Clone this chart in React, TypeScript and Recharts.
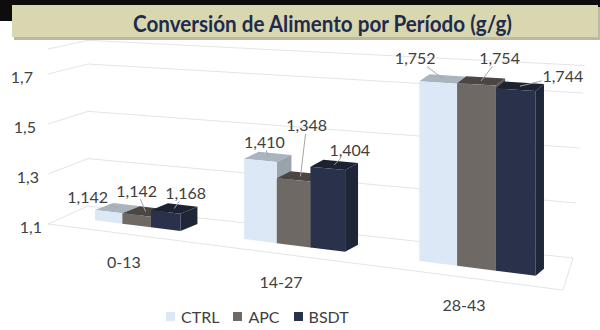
import React from 'react';
import { BarChart, Bar, XAxis, YAxis, CartesianGrid, LabelList, Legend } from 'recharts';

const periods = ['0-13', '14-27', '28-43'];
const seriesKeys = ['CTRL', 'APC', 'BSDT'];
const ctrl = [1.142, 1.41, 1.752];
const apc = [1.142, 1.348, 1.754];
const bsdt = [1.168, 1.404, 1.744];
const yTicks = [1.1, 1.3, 1.5, 1.7];

const data = periods.map((p, i) => ({ period: p, CTRL: ctrl[i], APC: apc[i], BSDT: bsdt[i] }));

const W = 600;
const H = 330;
const Y_AXIS_W = 40;
const X_AXIS_H = 20;
const M = { top: 40, right: 40, bottom: 40 - X_AXIS_H, left: 60 - Y_AXIS_W };
const PL = 60;
const PW = W - 60 - 40;
const PT = 40;
const PH = H - 40 - 40;
const Y_MIN = 1.1;
const Y_MAX = 1.8;
const BAND = PW / periods.length;
const TEXT = '#404040';
const FONT = 'Lato, "Open Sans", sans-serif';

// recharts lays the bars out flat; these bend that layout into the tilted 3d view
const toT = (x: number) => (x - PL) / BAND - 0.5;
const sx = (t: number) => 137 + 144 * t + 13 * t * t;
const base = (X: number) => 222 + 0.126 * (X - 109);
const unit = (X: number) => 248 + 0.096 * (X - 130);
const dv = (yFlat: number) => ((PT + PH - yFlat) / PH) * (Y_MAX - Y_MIN);
const sy = (X: number, d: number) => base(X) - unit(X) * d;
const depthX = (X: number) => 17 - (X - 165) * 0.025;
const DEPTH_Y = -7;
const WALL_SPAN = yTicks[yTicks.length - 1] - Y_MIN;

const wall = (f: number) => ({
  front: [48, 224 - 150 * f],
  backL: [88, 206 - 142 * f],
  backR: [573 + 10 * f, 258 - 165 * f],
});

const pts = (p: number[][]) => p.map((q) => `${q[0]},${q[1]}`).join(' ');
const fmt = (v: number, n: number) => v.toFixed(n).replace('.', ',');

const colors: Record<string, { front: string; top: string; side: string }> = {
  CTRL: { front: '#dde8f6', top: '#a9b4bf', side: '#98a3ae' },
  APC: { front: '#6f6966', top: '#4b4643', side: '#57524f' },
  BSDT: { front: '#29324a', top: '#1c2232', side: '#1f2638' },
};

// where each value label was dragged to, relative to its bar top
const labelOffsets: Record<string, number[][]> = {
  CTRL: [[-21, -15], [4, -19], [-23, -25]],
  APC: [[0, -25], [13, -55], [23, -27]],
  BSDT: [[20, -20], [22, -19], [47, -14]],
};

const boxShape = (key: string) => (props: any) => {
  const { x, y, width, height } = props;
  if (width == null || height == null) return <g />;
  const c = colors[key];
  const X1 = sx(toT(x));
  const X2 = sx(toT(x + width));
  const dTop = dv(y);
  const dBot = dv(y + height);
  const a = [X1, sy(X1, dTop)];
  const b = [X2, sy(X2, dTop)];
  const cc = [X2, sy(X2, dBot)];
  const d = [X1, sy(X1, dBot)];
  const ox = depthX((X1 + X2) / 2);
  const sh = (p: number[]) => [p[0] + ox, p[1] + DEPTH_Y];
  return (
    <g>
      <polygon points={pts([a, b, sh(b), sh(a)])} fill={c.top} />
      <polygon points={pts([b, sh(b), sh(cc), cc])} fill={c.side} />
      <polygon points={pts([a, b, cc, d])} fill={c.front} />
    </g>
  );
};

const valueLabel = (key: string) => (props: any) => {
  const vb = props.viewBox || props;
  const { x, y, width } = vb;
  const { index, value } = props;
  if (x == null) return null;
  const X1 = sx(toT(x));
  const X2 = sx(toT(x + width));
  const Xc = (X1 + X2) / 2;
  const Yc = sy(Xc, dv(y));
  const off = labelOffsets[key][index];
  const cx = Xc + off[0];
  const cy = Yc + off[1];
  const tx = Xc + depthX(Xc) / 2;
  const ty = Yc + DEPTH_Y / 2;
  const ddx = tx - cx;
  const ddy = ty - cy;
  const s = Math.min(ddx !== 0 ? 21 / Math.abs(ddx) : 99, ddy !== 0 ? 9 / Math.abs(ddy) : 99);
  const lx = cx + ddx * s;
  const ly = cy + ddy * s;
  return (
    <g>
      {s < 0.8 && <line x1={lx} y1={ly} x2={tx} y2={ty} stroke="#a6a6a6" strokeWidth={1} />}
      <text x={cx} y={cy} textAnchor="middle" dominantBaseline="central" fill={TEXT} fontSize={16} fontFamily={FONT}>
        {fmt(Number(value), 3)}
      </text>
    </g>
  );
};

const gridLine = (props: any) => {
  const f = dv(props.y1) / WALL_SPAN;
  const w = wall(f);
  const floor = wall(0);
  return (
    <g key={props.key ?? `g-${props.index}`}>
      {f > 0.01 && (
        <polyline points={pts([w.front, w.backL, w.backR])} fill="none" stroke="#e4e4e4" strokeWidth={1} />
      )}
      {props.index === 0 && (
        <polyline
          points={pts([floor.backL, floor.backR, [563, 290], floor.front, floor.backL])}
          fill="none"
          stroke="#e4e4e4"
          strokeWidth={1}
        />
      )}
    </g>
  );
};

const yTick = (props: any) => {
  const v = props.payload.value;
  const f = dv(props.y) / WALL_SPAN;
  return (
    <text x={33 + (1 - f) * 9} y={226 - f * 150} textAnchor="end" dominantBaseline="central" fill={TEXT} fontSize={16} fontFamily={FONT}>
      {fmt(v, 1)}
    </text>
  );
};

const xTick = (props: any) => {
  const X = sx(toT(props.x));
  return (
    <text x={X - 13} y={base(X) + 36} textAnchor="middle" dominantBaseline="central" fill={TEXT} fontSize={16} fontFamily={FONT}>
      {props.payload.value}
    </text>
  );
};

const legendContent = (props: any) => {
  const items = [...(props.payload || [])].sort(
    (a: any, b: any) => seriesKeys.indexOf(a.value) - seriesKeys.indexOf(b.value)
  );
  return (
    <div style={{ display: 'flex', alignItems: 'center', fontFamily: FONT, fontSize: 16, color: TEXT }}>
      {items.map((item: any) => (
        <div key={item.value} style={{ display: 'flex', alignItems: 'center', marginRight: 14 }}>
          <span style={{ width: 9, height: 9, background: item.color, marginRight: 6, display: 'inline-block' }} />
          <span>{item.value}</span>
        </div>
      ))}
    </div>
  );
};

export default function App() {
  return (
    <div style={{ position: 'fixed', left: 0, top: 0, width: W, height: H, background: '#fff' }}>
      <BarChart width={W} height={H} data={data} margin={M} barCategoryGap="20%" barGap={0}>
        <CartesianGrid vertical={false} horizontal={gridLine} />
        <XAxis dataKey="period" height={X_AXIS_H} axisLine={false} tickLine={false} tick={xTick} interval={0} />
        <YAxis width={Y_AXIS_W} domain={[Y_MIN, Y_MAX]} ticks={yTicks} interval={0} axisLine={false} tickLine={false} tick={yTick} />
        <Legend
          verticalAlign="middle"
          align="center"
          layout="horizontal"
          content={legendContent}
          wrapperStyle={{ top: 307, left: 166, width: 260, height: 20 }}
        />
        {seriesKeys.map((key) => (
          <Bar key={key} dataKey={key} fill={colors[key].front} shape={boxShape(key)} isAnimationActive={false}>
            <LabelList dataKey={key} content={valueLabel(key)} />
          </Bar>
        ))}
      </BarChart>
      <svg width={W} height={45} style={{ position: 'absolute', left: 0, top: 0 }}>
        <rect x={0} y={0} width={600} height={21} fill="#0d0d0d" />
        <rect x={14} y={7} width={586} height={33} fill="#b9b9a4" />
        <rect x={12} y={5} width={586} height={32} fill="#d8d7b0" />
        <text x={133} y={32} textLength={379} lengthAdjust="spacingAndGlyphs" fill="#1f2b4d" fontSize={22} fontWeight={700} fontFamily={FONT}>
          Conversión de Alimento por Período (g/g)
        </text>
      </svg>
    </div>
  );
}
